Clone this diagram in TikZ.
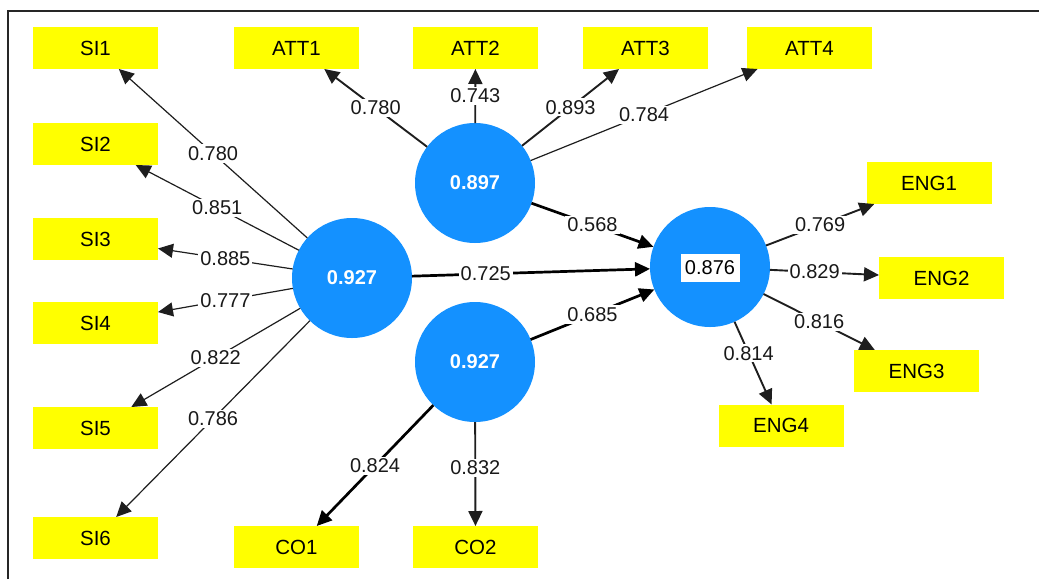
\documentclass[tikz,border=0pt]{standalone}
\usepackage{fontspec}
\setmainfont{Liberation Sans}
\usetikzlibrary{arrows.meta}
\definecolor{plsblue}{RGB}{20,145,255}
\definecolor{plsyellow}{RGB}{255,255,0}
\definecolor{edgegray}{RGB}{30,30,30}
\begin{document}
\begin{tikzpicture}[x=1pt,y=-1pt,
  ind/.style={fill=plsyellow, minimum width=125pt, minimum height=42pt, inner sep=0pt, outer sep=0pt, font=\fontsize{20.5}{24}\selectfont},
  lv/.style={circle, fill=plsblue, minimum size=120pt, inner sep=0pt, outer sep=0pt, text=white, font=\bfseries\fontsize{20}{24}\selectfont},
  ld/.style={fill=white, inner sep=2pt, font=\fontsize{20}{23}\selectfont, text=black!90},
  arr/.style={-{Triangle[length=15pt,width=14pt]}, draw=edgegray},
  thin/.style={line width=1.2pt},
  mid/.style={line width=1.9pt},
  thick/.style={line width=2.7pt, draw=black},
]
\useasboundingbox (0,0) rectangle (1039,579);
\draw[line width=2pt, black!85] (8,579) -- (8,11) -- (1039,11);

% latent variables
\node[lv] (S) at (352,278) {0.927};
\node[lv] (A) at (475,183) {0.897};
\node[lv] (C) at (475,362) {0.927};
\node[lv] (E) at (710,267) {};
\node[fill=white, text=black, inner sep=0pt, minimum width=59pt, minimum height=28pt, font=\fontsize{20}{24}\selectfont] (Elab) at (710,268) {0.876};

% indicators
\node[ind] (SI1) at (95.5,48) {SI1};
\node[ind] (SI2) at (95.5,144) {SI2};
\node[ind] (SI3) at (95.5,239) {SI3};
\node[ind] (SI4) at (95.5,323) {SI4};
\node[ind] (SI5) at (95.5,428) {SI5};
\node[ind] (SI6) at (95.5,538) {SI6};
\node[ind] (ATT1) at (296.5,48) {ATT1};
\node[ind] (ATT2) at (475.5,48) {ATT2};
\node[ind] (ATT3) at (645.5,48) {ATT3};
\node[ind] (ATT4) at (809.5,48) {ATT4};
\node[ind] (ENG1) at (929,183) {ENG1};
\node[ind] (ENG2) at (941.5,278) {ENG2};
\node[ind] (ENG3) at (916.5,371) {ENG3};
\node[ind] (ENG4) at (781,425.5) {ENG4};
\node[ind] (CO1) at (296.5,547) {CO1};
\node[ind] (CO2) at (475.5,547) {CO2};

% outer loadings SI
\draw[arr,thin] (S) -- node[ld]{0.780} (SI1);
\draw[arr,thin] (S) -- node[ld]{0.851} (SI2);
\draw[arr,thin] (S) -- node[ld]{0.885} (SI3);
\draw[arr,thin] (S) -- node[ld]{0.777} (SI4);
\draw[arr,thin] (S) -- node[ld]{0.822} (SI5);
\draw[arr,thin] (S) -- node[ld]{0.786} (SI6);

% ATT
\draw[arr,mid] (A) -- node[ld]{0.780} (ATT1);
\draw[arr,mid] (A) -- node[ld]{0.743} (ATT2);
\draw[arr,mid] (A) -- node[ld]{0.893} (ATT3);
\draw[arr,thin] (A) -- node[ld]{0.784} (ATT4);

% CO
\draw[arr,thick] (C) -- node[ld]{0.824} (CO1);
\draw[arr,mid] (C) -- node[ld,pos=0.44]{0.832} (CO2);

% ENG
\draw[arr,mid] (E) -- node[ld]{0.769} (ENG1);
\draw[arr,mid] (E) -- node[ld,pos=0.41]{0.829} (ENG2);
\draw[arr,mid] (E) -- node[ld]{0.816} (ENG3);
\draw[arr,mid] (E) -- node[ld,pos=0.38]{0.814} (ENG4);

% structural paths
\draw[arr,thick] (S) -- node[ld,pos=0.31]{0.725} (E);
\draw[arr,thick] (A) -- node[ld]{0.568} (E);
\draw[arr,thick] (C) -- node[ld]{0.685} (E);
\end{tikzpicture}
\end{document}
